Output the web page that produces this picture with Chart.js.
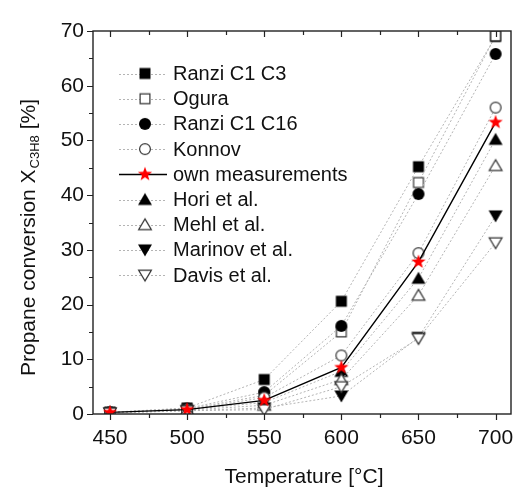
<!DOCTYPE html>
<html>
<head>
<meta charset="utf-8">
<script src="https://cdn.jsdelivr.net/npm/chart.js@4.4.1/dist/chart.umd.min.js"></script>
<style>
  html, body { margin: 0; padding: 0; background: #fff; }
</style>
</head>
<body>
<canvas id="chart" width="520" height="494"></canvas>
<script>
// Data
const temperatures = [450, 500, 550, 600, 650, 700];
const xTicks = [450, 500, 550, 600, 650, 700];
const yTicks = [0, 10, 20, 30, 40, 50, 60, 70];

const ranziC1C3 = [0.3, 1.1, 6.3, 20.6, 45.2, 69.0];
const ogura = [0.3, 0.9, 3.4, 15.0, 42.3, 69.1];
const ranziC1C16 = [0.3, 1.0, 4.0, 16.1, 40.2, 65.8];
const konnov = [0.3, 0.8, 3.0, 10.7, 29.4, 56.0];
const ownMeasurements = [0.3, 0.8, 2.5, 8.5, 27.8, 53.3];
const hori = [0.3, 0.8, 2.1, 7.8, 24.8, 50.2];
const mehl = [0.3, 0.7, 1.6, 6.3, 21.7, 45.4];
const marinov = [0.2, 0.6, 1.1, 3.3, 14.0, 36.2];
const davis = [0.2, 0.6, 0.8, 5.0, 13.8, 31.3];

const seriesNames = ['Ranzi C1 C3', 'Ogura', 'Ranzi C1 C16', 'Konnov', 'own measurements',
  'Hori et al.', 'Mehl et al.', 'Marinov et al.', 'Davis et al.'];

const FONT = '"Liberation Sans", Arial, sans-serif';

// marker images, used both in the plot and in the legend
function makeMarker(shape, filled, color) {
  const c = document.createElement('canvas');
  c.width = 18; c.height = 18;
  const g = c.getContext('2d');
  g.translate(9, 9);
  g.beginPath();
  const s = filled ? 0 : 0.6;
  if (shape === 'square') {
    g.rect(-5.5 + s, -5.5 + s, 11 - 2 * s, 11 - 2 * s);
  } else if (shape === 'circle') {
    g.arc(0, 0, 6 - s, 0, Math.PI * 2);
  } else if (shape === 'up') {
    g.moveTo(0, -6.5 + s); g.lineTo(7 - s, 5.5 - s); g.lineTo(-7 + s, 5.5 - s); g.closePath();
  } else if (shape === 'down') {
    g.moveTo(0, 6.5 - s); g.lineTo(7 - s, -5.5 + s); g.lineTo(-7 + s, -5.5 + s); g.closePath();
  } else if (shape === 'star') {
    for (let i = 0; i < 10; i++) {
      const r = i % 2 === 0 ? 7.5 : 3.1;
      const a = -Math.PI / 2 + i * Math.PI / 5;
      if (i === 0) g.moveTo(r * Math.cos(a), r * Math.sin(a));
      else g.lineTo(r * Math.cos(a), r * Math.sin(a));
    }
    g.closePath();
  }
  if (filled) {
    g.fillStyle = color;
    g.fill();
  } else {
    g.fillStyle = '#fff';
    g.fill();
    g.strokeStyle = '#333';
    g.lineWidth = 1.2;
    g.stroke();
  }
  return c;
}

const markers = [
  makeMarker('square', true, '#000'),
  makeMarker('square', false),
  makeMarker('circle', true, '#000'),
  makeMarker('circle', false),
  makeMarker('star', true, '#f00'),
  makeMarker('up', true, '#000'),
  makeMarker('up', false),
  makeMarker('down', true, '#000'),
  makeMarker('down', false)
];

const seriesValues = [ranziC1C3, ogura, ranziC1C16, konnov, ownMeasurements, hori, mehl, marinov, davis];
const GRAY = '#b4b4b4';

const datasets = seriesValues.map((vals, i) => {
  const own = i === 4;
  return {
    label: seriesNames[i],
    data: temperatures.map((t, k) => ({ x: t, y: vals[k] })),
    borderColor: own ? '#000' : GRAY,
    borderWidth: own ? 1.4 : 1,
    borderDash: own ? [] : [2, 2],
    pointStyle: markers[i],
    pointRadius: 6,
    pointHoverRadius: 6,
    tension: 0,
    fill: false,
    order: own ? -20 : -i
  };
});

// frame, inward/outward ticks
const frameTicks = {
  id: 'frameTicks',
  afterDraw(chart) {
    const { ctx, chartArea: a, scales: { x, y } } = chart;
    ctx.save();
    ctx.strokeStyle = '#222';
    ctx.lineWidth = 1.2;
    ctx.beginPath();
    for (let v = xTicks[0]; v <= xTicks[xTicks.length - 1]; v += 25) {
      const px = Math.round(x.getPixelForValue(v)) + 0.5;
      const len = v % 50 === 0 ? 6 : 4;
      ctx.moveTo(px, a.bottom); ctx.lineTo(px, a.bottom + len);
      ctx.moveTo(px, a.top); ctx.lineTo(px, a.top + len);
    }
    for (let v = yTicks[0]; v <= yTicks[yTicks.length - 1]; v += 5) {
      const py = Math.round(y.getPixelForValue(v)) + 0.5;
      const len = v % 10 === 0 ? 6 : 4;
      ctx.moveTo(a.left, py); ctx.lineTo(a.left - len, py);
    }
    ctx.stroke();
    ctx.lineWidth = 1.4;
    ctx.strokeRect(a.left, a.top, a.width, a.height);
    ctx.restore();
  }
};

// axis titles (with subscript) and the legend box
const annotations = {
  id: 'annotations',
  afterDraw(chart) {
    const { ctx, chartArea: a } = chart;
    ctx.save();
    ctx.fillStyle = '#111';
    ctx.textBaseline = 'middle';

    // x title
    ctx.font = '21px ' + FONT;
    ctx.textAlign = 'center';
    ctx.fillText('Temperature [°C]', (a.left + a.right) / 2 + 2, 477);

    // y title
    ctx.translate(29, 238);
    ctx.rotate(-Math.PI / 2);
    ctx.textAlign = 'left';
    const p1 = 'Propane conversion X', p2 = 'C3H8', p3 = ' [%]';
    ctx.font = '21px ' + FONT;
    const w1 = ctx.measureText(p1).width, w3 = ctx.measureText(p3).width;
    ctx.font = '13px ' + FONT;
    const w2 = ctx.measureText(p2).width;
    let sx = -(w1 + w2 + w3) / 2;
    ctx.font = '21px ' + FONT;
    ctx.fillText(p1, sx, 0);
    ctx.font = '13px ' + FONT;
    ctx.fillText(p2, sx + w1 + 1, 6);
    ctx.font = '21px ' + FONT;
    ctx.fillText(p3, sx + w1 + w2 + 1, 0);
    ctx.restore();

    // legend
    ctx.save();
    ctx.font = '20px ' + FONT;
    ctx.textBaseline = 'middle';
    ctx.fillStyle = '#111';
    seriesNames.forEach((name, i) => {
      const ly = 73.5 + i * 25.2;
      const own = i === 4;
      ctx.beginPath();
      ctx.strokeStyle = own ? '#000' : GRAY;
      ctx.lineWidth = own ? 1.4 : 1;
      ctx.setLineDash(own ? [] : [2, 2]);
      ctx.moveTo(119, Math.round(ly) + 0.5);
      ctx.lineTo(167, Math.round(ly) + 0.5);
      ctx.stroke();
      ctx.setLineDash([]);
      const m = markers[i];
      ctx.drawImage(m, 145 - m.width / 2, ly - m.height / 2);
      ctx.fillText(name, 173, ly + 1);
    });
    ctx.restore();
  }
};

new Chart(document.getElementById('chart'), {
  type: 'line',
  data: { datasets },
  options: {
    responsive: false,
    devicePixelRatio: 1,
    animation: false,
    layout: { padding: { top: 31, right: 9, left: 0, bottom: 0 } },
    plugins: { legend: { display: false }, tooltip: { enabled: false } },
    scales: {
      x: {
        type: 'linear',
        min: 439,
        max: 710,
        afterBuildTicks: s => { s.ticks = xTicks.map(v => ({ value: v })); },
        afterFit: s => { s.height = 80; s.paddingLeft = 0; s.paddingRight = 0; },
        grid: { display: false, drawTicks: false },
        border: { display: false },
        ticks: { font: { family: FONT, size: 21 }, color: '#111', padding: 12, maxRotation: 0 }
      },
      y: {
        type: 'linear',
        min: 0,
        max: 70,
        afterBuildTicks: s => { s.ticks = yTicks.map(v => ({ value: v })); },
        afterFit: s => { s.width = 93; s.paddingTop = 0; s.paddingBottom = 0; },
        grid: { display: false, drawTicks: false },
        border: { display: false },
        ticks: { font: { family: FONT, size: 21 }, color: '#111', padding: 9 }
      }
    }
  },
  plugins: [frameTicks, annotations]
});
</script>
</body>
</html>
